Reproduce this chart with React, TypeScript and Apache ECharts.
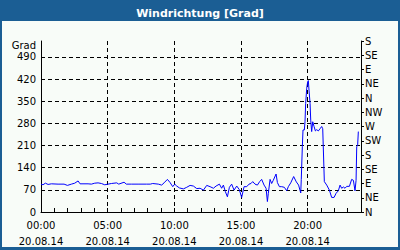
import React, { useEffect, useRef } from "react";
import * as echarts from "echarts";

const hours: number[] = [
  0.0, 0.15, 0.33, 0.53, 0.78, 1.28, 1.73, 1.98, 2.28, 2.53, 2.78, 2.93, 3.53, 3.78, 4.03, 4.28, 4.53, 4.78,
  5.03, 5.28, 5.68, 5.83, 6.23, 6.4, 6.78, 7.28, 7.9, 8.2, 8.38, 8.8, 9.05, 9.23, 9.48, 9.68, 9.88, 10.03,
  10.18, 10.38, 10.68, 10.93, 11.18, 11.43, 11.68, 11.93, 12.18, 12.43, 12.68, 12.93, 13.13, 13.38, 13.55,
  13.68, 13.83, 13.98, 14.13, 14.3, 14.48, 14.68, 14.87, 15.05, 15.23, 15.43, 15.6, 15.75, 15.88, 16.05,
  16.23, 16.4, 16.55, 16.73, 16.88, 16.98, 17.05, 17.18, 17.3, 17.42, 17.63, 17.73, 17.88, 18.05, 18.25,
  18.43, 18.55, 18.73, 18.95, 19.15, 19.32, 19.48, 19.52, 19.6, 19.65, 19.75, 19.8, 19.85, 19.93, 20.0,
  20.05, 20.1, 20.18, 20.23, 20.3, 20.38, 20.48, 20.58, 20.68, 20.8, 20.93, 21.05, 21.13, 21.25, 21.43,
  21.63, 21.8, 21.98, 22.13, 22.3, 22.43, 22.55, 22.68, 22.8, 22.93, 23.13, 23.3, 23.43, 23.55, 23.63,
  23.68, 23.75, 23.8,
];

const directions: number[] = [
  88, 86, 91, 87, 89, 88, 88, 84, 88, 91, 98, 89, 89, 88, 91, 92, 90, 86,
  88, 90, 92, 88, 94, 88, 88, 88, 88, 88, 90, 88, 85, 92, 103, 93, 80, 88,
  82, 76, 73, 78, 84, 82, 74, 75, 69, 84, 80, 75, 82, 88, 75,
  85, 64, 48, 78, 88, 69, 82, 71, 46, 80, 80, 88, 90, 96, 88,
  85, 96, 103, 85, 75, 33, 59, 103, 90, 100, 120, 93, 80, 80, 78,
  67, 80, 92, 112, 95, 85, 60, 103, 206, 259, 259, 285, 343, 391, 411,
  415, 385, 343, 290, 254, 285, 270, 256, 260, 256, 263, 270, 263, 96, 85,
  69, 46, 46, 59, 67, 85, 75, 79, 75, 81, 81, 103, 100, 67, 100,
  206, 212, 254,
];

const leftTicks: number[] = [0, 70, 140, 210, 280, 350, 420, 490];
const compassLabels: string[] = ["N", "NE", "E", "SE", "S", "SW", "W", "NW", "N", "NE", "E", "SE", "S"];
const dateLabel = "20.08.14";
const titleText = "Windrichtung [Grad]";
const unitText = "Grad";

const FONT = "DejaVu Sans";

export default function App() {
  const ref = useRef<HTMLDivElement>(null);

  useEffect(() => {
    document.body.style.margin = "0";
    if (!ref.current) return;
    const chart = echarts.init(ref.current, undefined, { renderer: "svg", width: 400, height: 250 });
    const data = hours.map((h, i) => [h, directions[i]]);
    const dash = [4, 3];
    chart.setOption({
      animation: false,
      backgroundColor: "transparent",
      textStyle: { fontFamily: FONT },
      title: {
        text: titleText,
        left: "center",
        top: 3,
        textStyle: { color: "#ffffff", fontFamily: FONT, fontSize: 11, fontWeight: "bold" },
      },
      graphic: [
        {
          type: "text",
          right: 364,
          top: 40,
          style: { text: unitText, fill: "#000", font: `10px "${FONT}"`, textAlign: "right" },
        },
      ],
      grid: { left: 41, right: 39, top: 41, bottom: 38, outerBoundsMode: "none" },
      xAxis: [
        {
          type: "value",
          min: 0,
          max: 24,
          interval: 5,
          position: "bottom",
          axisLine: { show: true, onZero: false, lineStyle: { color: "#000", width: 1 } },
          axisTick: { show: false },
          axisLabel: {
            color: "#000",
            fontFamily: FONT,
            fontSize: 10,
            lineHeight: 16,
            margin: 5,
            formatter: (v: number) => (v >= 24 ? "" : `${String(v).padStart(2, "0")}:00\n${dateLabel}`),
          },
          splitLine: { show: true, showMaxLine: false, lineStyle: { color: "#000", type: dash, width: 1 } },
        },
        {
          type: "value",
          min: 0,
          max: 24,
          interval: 1,
          position: "bottom",
          axisLine: { show: false, onZero: false },
          axisTick: { show: true, inside: true, length: 4, lineStyle: { color: "#000", width: 1 } },
          axisLabel: { show: false },
          splitLine: { show: false },
        },
      ],
      yAxis: [
        {
          type: "value",
          min: 0,
          max: 540,
          interval: 70,
          position: "left",
          axisLine: { show: true, onZero: false, lineStyle: { color: "#000", width: 1 } },
          axisTick: { show: false },
          axisLabel: {
            color: "#000",
            fontFamily: FONT,
            fontSize: 10,
            margin: 5,
            formatter: (v: number) => (leftTicks.includes(v) ? String(v) : ""),
          },
          splitLine: { show: true, showMinLine: false, showMaxLine: false, lineStyle: { color: "#000", type: dash, width: 1 } },
        },
        {
          type: "value",
          min: 0,
          max: 540,
          interval: 45,
          position: "right",
          axisLine: { show: true, onZero: false, lineStyle: { color: "#000", width: 1 } },
          axisTick: { show: true, length: 3, lineStyle: { color: "#000", width: 1 } },
          axisLabel: {
            color: "#000",
            fontFamily: FONT,
            fontSize: 10,
            margin: 4,
            formatter: (v: number) => compassLabels[Math.round(v / 45)] ?? "",
          },
          splitLine: { show: false },
        },
      ],
      series: [
        {
          type: "line",
          xAxisIndex: 0,
          yAxisIndex: 0,
          data,
          showSymbol: false,
          symbol: "none",
          lineStyle: { color: "#0000ff", width: 1 },
          z: 5,
        },
      ],
    });
    return () => chart.dispose();
  }, []);

  return (
    <div
      style={{
        position: "absolute",
        left: 0,
        top: 0,
        width: 400,
        height: 250,
        background: "linear-gradient(to bottom, #1b5e94 0px, #1b5e94 21px, #f8fcf8 21px, #f8fcf8 100%)",
        boxShadow: "inset 2px 0 0 #1b5e94, inset -2px 0 0 #1b5e94, inset 0 -3px 0 #1b5e94",
      }}
    >
      <div ref={ref} style={{ width: 400, height: 250 }} />
    </div>
  );
}
